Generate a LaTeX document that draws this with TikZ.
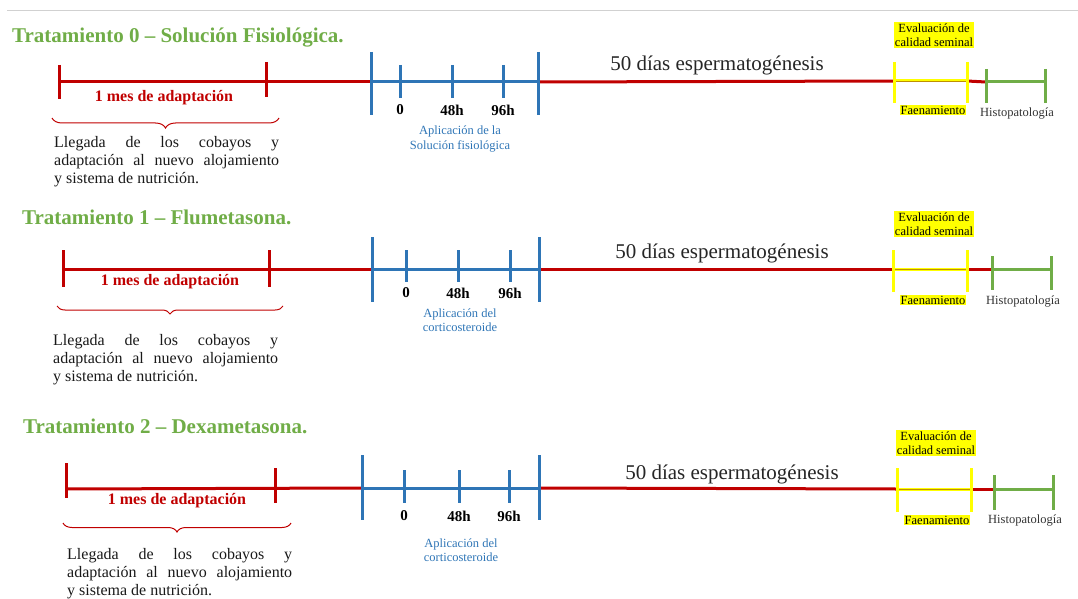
\documentclass[tikz,border=0pt]{standalone}
\usepackage{fontspec}
\setmainfont{Liberation Serif}
\usetikzlibrary{decorations.pathreplacing}
\definecolor{tred}{RGB}{192,0,0}
\definecolor{tblue}{RGB}{46,117,182}
\definecolor{tgreen}{RGB}{112,173,71}
\definecolor{tyellow}{RGB}{255,255,0}
\definecolor{tolive}{RGB}{191,144,0}
\hbadness=10000
\begin{document}
\begin{tikzpicture}[x=1pt,y=-1pt,
  title/.style={anchor=west, inner sep=0pt, text=tgreen, font=\fontsize{21}{24}\selectfont\bfseries},
  redline/.style={draw=tred, line width=3pt},
  blueline/.style={draw=tblue, line width=3pt},
  greenline/.style={draw=tgreen, line width=3pt},
  yelline/.style={draw=tyellow, line width=3pt},
  oliveline/.style={draw=tolive, line width=0.9pt},
  redtick/.style={draw=tred, line width=3pt},
  bluetick/.style={draw=tblue, line width=3pt},
  yeltick/.style={draw=tyellow, line width=3pt},
  greentick/.style={draw=tgreen, line width=3pt},
  mes/.style={inner sep=0pt, text=tred, font=\fontsize{16}{18}\selectfont\bfseries},
  hour/.style={inner sep=0pt, font=\fontsize{15}{17}\selectfont\bfseries},
  apl/.style={inner sep=0pt, text=tblue, align=center, font=\fontsize{12.5}{14.5}\selectfont},
  dias/.style={inner sep=0pt, text=black!85, font=\fontsize{21}{24}\selectfont},
  hl/.style={fill=tyellow, inner sep=1pt, align=center, font=\fontsize{12.5}{14.5}\selectfont},
  histo/.style={inner sep=0pt, text=black!80, font=\fontsize{12.5}{14.5}\selectfont},
  para/.style={anchor=north west, inner sep=0pt, text width=225pt, align=justify, text=black!90, font=\fontsize{16}{18.3}\selectfont},
  bracestyle/.style={draw=tred, line width=1pt, decorate, decoration={brace, mirror, amplitude=#1}}
]
\useasboundingbox (0,0) rectangle (1078,599);
\coordinate (topL) at (7,11);
\coordinate (topR) at (1078,11);
\draw[black!18, line width=1pt] (topL) -- (topR);

% ================= Row 0 =================
\node[title] (t0) at (12,38) {Tratamiento 0 -- Solución Fisiológica.};
\coordinate (r0a) at (59,82);
\coordinate (r0b) at (266,82);
\coordinate (r0c) at (371,82);
\coordinate (r0d) at (400,82);
\coordinate (r0e) at (452,82);
\coordinate (r0f) at (503,82);
\coordinate (r0g) at (538,82);
\coordinate (r0h) at (894,81);
\coordinate (r0i) at (967,81);
\coordinate (r0j) at (986,82);
\coordinate (r0k) at (1045,82);
\draw[redline] (r0a) -- (r0c);
\draw[blueline] (r0c) -- (r0g);
\draw[redline] (r0g) -- (r0h);
\draw[yelline] (r0h) -- (r0i);
\draw[oliveline] (r0h) -- (r0i);
\draw[redline] (r0i) -- (r0j);
\draw[greenline] (r0j) -- (r0k);
\draw[redtick] ([yshift=17pt]r0a) -- ([yshift=-17pt]r0a);
\draw[redtick] ([yshift=20pt]r0b) -- ([yshift=-15pt]r0b);
\foreach \c in {r0c,r0g} \draw[bluetick] ([yshift=30pt]\c) -- ([yshift=-33pt]\c);
\foreach \c in {r0d,r0e,r0f} \draw[bluetick] ([yshift=17pt]\c) -- ([yshift=-16pt]\c);
\foreach \c in {r0h,r0i} \draw[yeltick] ([yshift=19pt]\c) -- ([yshift=-22pt]\c);
\foreach \c in {r0j,r0k} \draw[greentick] ([yshift=13pt]\c) -- ([yshift=-21pt]\c);
\node[mes] (m0) at (164,98) {1 mes de adaptación};
\coordinate (b0l) at (52,118);
\coordinate (b0r) at (279,118);
\draw[bracestyle=10pt] (b0l) -- (b0r);
\node[para] (p0) at (54,136) {Llegada de los cobayos y\linebreak adaptación al nuevo alojamiento\linebreak y sistema de nutrición.};
\node[hour] (h00) at (400,110) {0};
\node[hour] (h01) at (452,110) {48h};
\node[hour] (h02) at (503,110) {96h};
\node[apl] (a0) at (460,139) {Aplicación de la\\Solución fisiológica};
\node[dias] (d0) at (717,65) {50 días espermatogénesis};
\node[hl] (e0) at (934,35) {Evaluación de\\calidad seminal};
\node[hl] (f0) at (933,110) {Faenamiento};
\node[histo] (x0) at (1017,114) {Histopatología};

% ================= Row 1 =================
\node[title] (t1) at (22,217) {Tratamiento 1 -- Flumetasona.};
\coordinate (r1a) at (63,269);
\coordinate (r1b) at (269,269);
\coordinate (r1c) at (372,269);
\coordinate (r1d) at (406,269);
\coordinate (r1e) at (458,269);
\coordinate (r1f) at (510,269);
\coordinate (r1g) at (539,269);
\coordinate (r1h) at (893,269);
\coordinate (r1i) at (967,269);
\coordinate (r1j) at (992,269);
\coordinate (r1k) at (1051,269);
\draw[redline] (r1a) -- (r1c);
\draw[blueline] (r1c) -- (r1g);
\draw[redline] (r1g) -- (r1h);
\draw[yelline] (r1h) -- (r1i);
\draw[oliveline] (r1h) -- (r1i);
\draw[redline] (r1i) -- (r1j);
\draw[greenline] (r1j) -- (r1k);
\draw[redtick] ([yshift=19pt]r1a) -- ([yshift=-18pt]r1a);
\draw[redtick] ([yshift=19pt]r1b) -- ([yshift=-18pt]r1b);
\foreach \c in {r1c,r1g} \draw[bluetick] ([yshift=32pt]\c) -- ([yshift=-33pt]\c);
\foreach \c in {r1d,r1e,r1f} \draw[bluetick] ([yshift=19pt]\c) -- ([yshift=-13pt]\c);
\foreach \c in {r1h,r1i} \draw[yeltick] ([yshift=19pt]\c) -- ([yshift=-23pt]\c);
\foreach \c in {r1j,r1k} \draw[greentick] ([yshift=13pt]\c) -- ([yshift=-21pt]\c);
\node[mes] (m1) at (170,282) {1 mes de adaptación};
\coordinate (b1l) at (57,306);
\coordinate (b1r) at (283,306);
\draw[bracestyle=8pt] (b1l) -- (b1r);
\node[para] (p1) at (53,334) {Llegada de los cobayos y\linebreak adaptación al nuevo alojamiento\linebreak y sistema de nutrición.};
\node[hour] (h10) at (406,293) {0};
\node[hour] (h11) at (458,293) {48h};
\node[hour] (h12) at (510,293) {96h};
\node[apl] (a1) at (460,320) {Aplicación del\\corticosteroide};
\node[dias] (d1) at (722,253) {50 días espermatogénesis};
\node[hl] (e1) at (934,224) {Evaluación de\\calidad seminal};
\node[hl] (f1) at (933,300) {Faenamiento};
\node[histo] (x1) at (1023,302) {Histopatología};

% ================= Row 2 =================
\node[title] (t2) at (23,426) {Tratamiento 2 -- Dexametasona.};
\coordinate (r2a) at (66,489);
\coordinate (r2b) at (275,489);
\coordinate (r2c) at (362,488);
\coordinate (r2d) at (404,488);
\coordinate (r2e) at (459,488);
\coordinate (r2f) at (509,488);
\coordinate (r2g) at (539,488);
\coordinate (r2h) at (897,489);
\coordinate (r2i) at (971,489);
\coordinate (r2j) at (994,489);
\coordinate (r2k) at (1053,489);
\draw[redline] (r2a) -- (r2c);
\draw[blueline] (r2c) -- (r2g);
\draw[redline] (r2g) -- (r2h);
\draw[yelline] (r2h) -- (r2i);
\draw[oliveline] (r2h) -- (r2i);
\draw[redline] (r2i) -- (r2j);
\draw[greenline] (r2j) -- (r2k);
\draw[redtick] ([yshift=26pt]r2a) -- ([yshift=-9pt]r2a);
\draw[redtick] ([yshift=21pt]r2b) -- ([yshift=-14pt]r2b);
\foreach \c in {r2c,r2g} \draw[bluetick] ([yshift=33pt]\c) -- ([yshift=-32pt]\c);
\foreach \c in {r2d,r2e,r2f} \draw[bluetick] ([yshift=18pt]\c) -- ([yshift=-15pt]\c);
\foreach \c in {r2h,r2i} \draw[yeltick] ([yshift=21pt]\c) -- ([yshift=-23pt]\c);
\foreach \c in {r2j,r2k} \draw[greentick] ([yshift=14pt]\c) -- ([yshift=-21pt]\c);
\node[mes] (m2) at (177,501) {1 mes de adaptación};
\coordinate (b2l) at (63,523);
\coordinate (b2r) at (291,523);
\draw[bracestyle=9pt] (b2l) -- (b2r);
\node[para] (p2) at (67,548) {Llegada de los cobayos y\linebreak adaptación al nuevo alojamiento\linebreak y sistema de nutrición.};
\node[hour] (h20) at (404,516) {0};
\node[hour] (h21) at (459,516) {48h};
\node[hour] (h22) at (509,516) {96h};
\node[apl] (a2) at (461,550) {Aplicación del\\corticosteroide};
\node[dias] (d2) at (732,474) {50 días espermatogénesis};
\node[hl] (e2) at (936,443) {Evaluación de\\calidad seminal};
\node[hl] (f2) at (937,520) {Faenamiento};
\node[histo] (x2) at (1025,520) {Histopatología};
\end{tikzpicture}
\end{document}
